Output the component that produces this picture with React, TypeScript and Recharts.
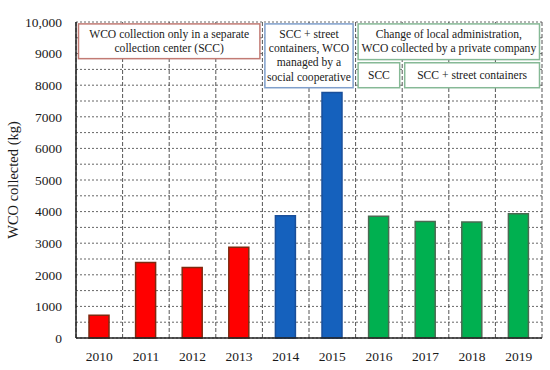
import React from 'react';
import { BarChart, Bar, XAxis, YAxis, CartesianGrid, Cell, ReferenceArea } from 'recharts';

const years = ['2010', '2011', '2012', '2013', '2014', '2015', '2016', '2017', '2018', '2019'];
const wcoCollected = [720, 2390, 2230, 2870, 3870, 7770, 3850, 3690, 3670, 3930];
const periods = ['scc', 'scc', 'scc', 'scc', 'coop', 'coop', 'private', 'private', 'private', 'private'];
const yTicks = [0, 1000, 2000, 3000, 4000, 5000, 6000, 7000, 8000, 9000, 10000];

const periodFill: Record<string, string> = { scc: '#ff0000', coop: '#1561bd', private: '#00b050' };
const periodStroke: Record<string, string> = { scc: '#7e2a10', coop: '#1a4f9a', private: '#4b6a52' };

const annotationTexts = [
  ['WCO collection only in a separate', 'collection center (SCC)'],
  ['SCC + street', 'containers, WCO', 'managed by a', 'social cooperative'],
  ['Change of local administration,', 'WCO collected by a private company'],
  ['SCC'],
  ['SCC + street containers'],
];
const annotationFrom = ['2010', '2014', '2016', '2016', '2017'];
const annotationTo = ['2013', '2015', '2019', '2016', '2019'];
const annotationLow = [8840, 7920, 8810, 7920, 7920];
const annotationHigh = [9940, 9940, 9940, 8710, 8710];
const annotationBorder = ['#c27b74', '#7f9fcb', '#86b996', '#86b996', '#86b996'];

const data = years.map((year, i) => ({ year, value: wcoCollected[i], period: periods[i] }));

const FONT = 'Liberation Serif, serif';

// layout constants
const CHART_W = 550;
const CHART_H = 370;
const MARGIN = { top: 22, right: 8, bottom: 0, left: 0 };
const YAXIS_W = 76;
const PLOT_LEFT = MARGIN.left + YAXIS_W;
const PLOT_W = CHART_W - PLOT_LEFT - MARGIN.right;

const AnnotationBox = (props: any) => {
  const { y, height, lines, border, i0, i1 } = props;
  const n = years.length;
  const inset = 2.5;
  const lh = 14.3;
  const x = PLOT_LEFT + (PLOT_W * i0) / n;
  const width = (PLOT_W * (i1 - i0)) / n;
  const cx = x + width / 2;
  const cy = y + height / 2;
  const startY = cy - ((lines.length - 1) * lh) / 2;
  return (
    <g>
      <rect x={x + inset} y={y} width={width - 2 * inset} height={height} fill="#ffffff" stroke={border} strokeWidth={1.5} />
      {lines.map((l: string, k: number) => (
        <text key={k} x={cx} y={startY + k * lh} textAnchor="middle" dominantBaseline="central" fontFamily={FONT} fontSize={11.6} fill="#1a1a1a">
          {l}
        </text>
      ))}
    </g>
  );
};

const YLabel = (props: any) => {
  const vb = props.viewBox || { x: 0, y: 22, width: 76, height: 316 };
  const x = vb.x + 13;
  const y = vb.y + vb.height / 2;
  return (
    <text x={x} y={y} transform={`rotate(-90 ${x} ${y})`} textAnchor="middle" dominantBaseline="central" fontFamily={FONT} fontSize={14.5} fill="#1a1a1a">
      WCO collected (kg)
    </text>
  );
};

export default function App() {
  const n = years.length;
  return (
    <div style={{ position: 'absolute', left: 0, top: 0, width: CHART_W, height: CHART_H, background: '#ffffff' }}>
      <BarChart width={CHART_W} height={CHART_H} data={data} margin={MARGIN}>
        <CartesianGrid
          vertical={false}
          stroke="#666"
          strokeDasharray="2 2"
          horizontalCoordinatesGenerator={({ offset }: any) =>
            Array.from({ length: 21 }, (_, i) => offset.top + (offset.height * i) / 20)
          }
        />
        <CartesianGrid
          horizontal={false}
          stroke="#555"
          strokeDasharray="4 2"
          verticalCoordinatesGenerator={() =>
            Array.from({ length: n + 1 }, (_, i) => PLOT_LEFT + (PLOT_W * i) / n)
          }
        />
        <XAxis
          dataKey="year"
          height={32}
          axisLine={{ stroke: '#222', strokeWidth: 1.5 }}
          tickLine={false}
          tickMargin={7}
          tick={{ fontFamily: FONT, fontSize: 13.5, fill: '#1a1a1a' }}
          interval={0}
        />
        <YAxis
          width={YAXIS_W}
          domain={[0, 10000]}
          ticks={yTicks}
          interval={0}
          axisLine={{ stroke: '#222', strokeWidth: 1.5 }}
          tickLine={false}
          tickMargin={8}
          tick={{ fontFamily: FONT, fontSize: 13.5, fill: '#1a1a1a' }}
          tickFormatter={(v: number) => (v >= 10000 ? v.toLocaleString('en-US') : String(v))}
          label={{ content: (p: any) => <YLabel {...p} /> }}
        />
        <YAxis
          yAxisId="frame"
          orientation="right"
          width={0}
          domain={[0, 10000]}
          tick={false}
          tickLine={false}
          axisLine={{ stroke: '#666', strokeWidth: 1.2 }}
        />
        <Bar dataKey="value" barSize={20} isAnimationActive={false} strokeWidth={1.5}>
          {data.map((d, i) => (
            <Cell key={i} fill={periodFill[d.period]} stroke={periodStroke[d.period]} />
          ))}
        </Bar>
        {annotationTexts.map((lines, i) => (
          <ReferenceArea
            key={i}
            y1={annotationLow[i]}
            y2={annotationHigh[i]}
            ifOverflow="visible"
            shape={(p: any) => (
              <AnnotationBox
                {...p}
                lines={lines}
                border={annotationBorder[i]}
                i0={years.indexOf(annotationFrom[i])}
                i1={years.indexOf(annotationTo[i]) + 1}
              />
            )}
          />
        ))}
      </BarChart>
    </div>
  );
}
